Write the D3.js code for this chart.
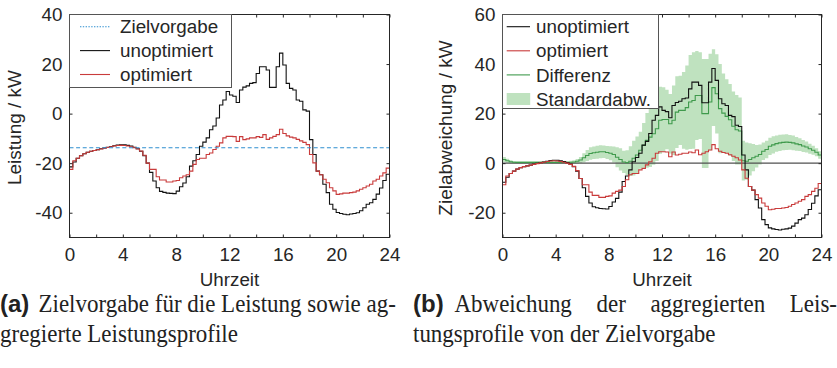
<!DOCTYPE html>
<html>
<head>
<meta charset="utf-8">
<script src="https://cdn.jsdelivr.net/npm/d3@7"></script>
<style>
  body { margin: 0; background: #fff; }
  svg { display: block; }
  .lbl { font-family: "Liberation Sans", Arial, Helvetica, sans-serif; fill: #262626; }
</style>
</head>
<body>
<svg id="chart" width="837" height="368"></svg>
<script>
// ---- Data: 15-minute aggregated power profiles over one day (kW) ----
const zielvorgabe = -13.8;

const unoptimiert = [
  -21.5, -19.5, -18.0, -17.0, -16.2, -15.6, -15.2, -14.9,
  -14.6, -14.2, -13.9, -13.6, -13.3, -13.0, -12.7, -12.6,
  -12.6, -12.8, -13.1, -13.6, -14.2, -15.2, -17.0, -20.0,
  -23.7, -27.2, -29.9, -31.4, -31.8, -32.1, -32.2, -32.3,
  -31.3, -29.5, -28.0, -25.5, -21.2, -19.0, -16.5, -13.2,
  -11.5, -9.8, -6.5, -5.0, -1.8, 3.5, 5.5, 8.9,
  7.5, 7.0, 4.5, 9.5, 10.7, 11.2, 12.2, 12.5,
  16.2, 18.9, 18.9, 17.6, 10.6, 10.6, 18.9, 24.4,
  19.6, 12.2, 10.2, 9.5, 5.5, 5.0, 1.5, 1.0,
  -10.5, -16.5, -23.2, -24.7, -28.5, -31.9, -36.6, -38.6,
  -39.9, -40.3, -40.6, -40.8, -40.5, -40.3, -40.0, -39.2,
  -38.0, -36.6, -36.0, -34.6, -32.5, -30.0, -27.0, -24.5
];

const optimiert = [
  -22.5, -19.0, -18.0, -17.0, -16.2, -15.6, -15.2, -14.9,
  -14.6, -14.3, -14.0, -13.7, -13.4, -13.1, -12.9, -12.8,
  -12.9, -13.1, -13.4, -13.8, -14.3, -15.1, -16.8, -20.0,
  -22.5, -22.5, -25.5, -26.8, -26.8, -27.6, -27.6, -27.2,
  -27.0, -25.9, -25.2, -24.7, -23.2, -20.5, -18.5, -18.0,
  -18.0, -16.5, -15.9, -14.5, -13.2, -11.8, -9.8, -9.2,
  -9.2, -9.3, -11.2, -9.3, -10.5, -10.2, -9.8, -9.8,
  -9.3, -9.6, -8.5, -10.4, -9.8, -9.2, -8.5, -6.3,
  -8.0, -9.0, -9.5, -9.8, -10.4, -11.0, -11.6, -12.5,
  -16.5, -19.9, -23.2, -24.7, -26.5, -27.9, -29.9, -31.2,
  -32.6, -32.4, -32.1, -32.1, -31.9, -31.7, -31.2, -30.5,
  -29.9, -29.2, -28.5, -27.2, -26.5, -25.2, -23.9, -22.0
];

const differenz = [
  1.5, 1.0, 0.6, 0.4, 0.3, 0.3, 0.3, 0.3,
  0.3, 0.3, 0.3, 0.3, 0.3, 0.3, 0.3, 0.3,
  0.3, 0.3, 0.3, 0.3, 0.4, 0.5, 0.8, 1.3,
  2.2, 3.1, 3.9, 4.2, 4.4, 4.6, 4.6, 4.3,
  4.0, 3.5, 2.4, 1.5, 0.5, 0.2, 0.8, 2.0,
  3.3, 5.2, 7.2, 9.2, 10.5, 11.9, 13.9, 17.3,
  17.6, 17.6, 15.9, 17.3, 20.6, 21.3, 21.3, 22.4,
  24.7, 25.3, 27.3, 27.3, 20.0, 20.0, 24.7, 30.5,
  28.0, 22.0, 20.2, 18.9, 17.5, 14.9, 13.5, 13.0,
  1.0, 0.8, 1.5, 2.2, 2.8, 3.5, 4.8, 5.5,
  6.8, 7.4, 7.9, 8.2, 8.4, 8.5, 8.4, 8.2,
  7.8, 7.5, 6.9, 6.5, 5.8, 5.2, 4.4, 3.3
];

const standardabw = [
  1.0, 0.8, 0.6, 0.5, 0.5, 0.5, 0.5, 0.5,
  0.5, 0.5, 0.5, 0.5, 0.5, 0.5, 0.5, 0.5,
  0.5, 0.5, 0.5, 0.5, 0.6, 0.7, 0.9, 1.2,
  1.8, 2.2, 2.5, 2.5, 2.6, 2.6, 2.5, 2.6,
  2.8, 3.2, 4.0, 4.5, 4.5, 5.0, 6.0, 7.0,
  7.5, 7.5, 9.0, 11.0, 12.0, 12.5, 13.0, 13.5,
  13.0, 12.0, 12.0, 14.0, 14.5, 14.0, 15.5, 17.0,
  19.0, 19.5, 18.0, 17.5, 22.0, 22.0, 19.5, 15.5,
  16.0, 18.0, 16.0, 15.0, 14.5, 14.0, 14.0, 13.5,
  8.0, 7.5, 6.5, 5.5, 4.5, 4.0, 3.5, 3.5,
  3.5, 3.5, 3.3, 3.3, 3.2, 3.2, 3.0, 3.0,
  2.8, 2.6, 2.4, 2.2, 2.0, 1.8, 1.6, 1.5
];

const xTicks = [0, 2, 4, 6, 8, 10, 12, 14, 16, 18, 20, 22, 24];
const xTickLabels = [0, 4, 8, 12, 16, 20, 24];
const yTicksLeft = [-40, -20, 0, 20, 40];
const yTicksRight = [-20, 0, 20, 40, 60];

// deviation from the target for panel (b)
const abwUnopt = unoptimiert.map(v => v - zielvorgabe);
const abwOpt = optimiert.map(v => v - zielvorgabe);

// ---- Styling ----
const C = {
  axis: "#262626",
  black: "#111111",
  red: "#c93b3b",
  green: "#3f9a4c",
  band: "#bfe2bf",
  blue: "#2f8fd0",
  zero: "#505050"
};
const FS = 18.8;
const STEP = 0.25;

const svg = d3.select("#chart");

// step series: each value holds for 15 minutes, closed at 24 h
const steps = vals => vals.map((v, i) => [i * STEP, v]).concat([[24, vals[vals.length - 1]]]);

// plain hyphen-minus for negative tick labels
const num = d => String(d);

function panel(opts) {
  const { left, right, yDomain, yTicks, id } = opts;
  const top = 14.5, bottom = 237.5;
  const x = d3.scaleLinear().domain([0, 24]).range([left, right]);
  const y = d3.scaleLinear().domain(yDomain).range([bottom, top]);
  const g = svg.append("g");

  g.append("clipPath").attr("id", id)
    .append("rect").attr("x", left).attr("y", top)
    .attr("width", right - left).attr("height", bottom - top);

  const plot = g.append("g").attr("clip-path", `url(#${id})`);

  // axes with inward ticks on all four sides
  const fmtX = d => (xTickLabels.includes(d) ? num(d) : "");
  const ax = g.append("g").attr("class", "axes");
  ax.append("g").attr("transform", `translate(0,${bottom})`)
    .call(d3.axisBottom(x).tickValues(xTicks).tickFormat(fmtX).tickSize(-3).tickPadding(10));
  ax.append("g").attr("transform", `translate(0,${top})`)
    .call(d3.axisTop(x).tickValues(xTicks).tickFormat("").tickSize(-3));
  ax.append("g").attr("transform", `translate(${left},0)`)
    .call(d3.axisLeft(y).tickValues(yTicks).tickFormat(num).tickSize(-3).tickPadding(7));
  ax.append("g").attr("transform", `translate(${right},0)`)
    .call(d3.axisRight(y).tickValues(yTicks).tickFormat("").tickSize(-3));
  ax.selectAll(".domain").remove();
  ax.selectAll(".tick line").attr("stroke", C.axis).attr("stroke-width", 1);
  ax.selectAll(".tick text").attr("class", "lbl").attr("font-size", FS)
    .attr("fill", C.axis).style("font-family", '"Liberation Sans", Arial, sans-serif');

  g.append("rect").attr("x", left).attr("y", top)
    .attr("width", right - left).attr("height", bottom - top)
    .attr("fill", "none").attr("stroke", C.axis).attr("stroke-width", 1);

  g.append("text").attr("class", "lbl").attr("font-size", FS)
    .attr("x", (left + right) / 2).attr("y", 285.5).attr("text-anchor", "middle")
    .text("Uhrzeit");

  return { g, plot, x, y, top, bottom };
}

const line = (x, y) => d3.line().x(d => x(d[0])).y(d => y(d[1])).curve(d3.curveStepAfter);

// ---------------- Panel (a) ----------------
const A = panel({ left: 69.5, right: 389.5, yDomain: [-50, 40], yTicks: yTicksLeft, id: "clipA" });
const lA = line(A.x, A.y);

A.plot.append("path").datum(steps(unoptimiert)).attr("d", lA)
  .attr("fill", "none").attr("stroke", C.black).attr("stroke-width", 1.1);
A.plot.append("path").datum(steps(optimiert)).attr("d", lA)
  .attr("fill", "none").attr("stroke", C.red).attr("stroke-width", 1.1);
A.plot.append("path").datum([[0, zielvorgabe], [24, zielvorgabe]]).attr("d", lA)
  .attr("fill", "none").attr("stroke", C.blue).attr("stroke-width", 1.1)
  .attr("stroke-dasharray", "4,2.6");

A.g.append("text").attr("class", "lbl").attr("font-size", 19)
  .attr("text-anchor", "middle")
  .attr("transform", `translate(21,127.5) rotate(-90)`)
  .text("Leistung / kW");

// legend (a)
{
  const lg = A.g.append("g");
  lg.append("rect").attr("x", 69.5).attr("y", 14.5).attr("width", 162).attr("height", 73)
    .attr("fill", "#fff").attr("stroke", "#555").attr("stroke-width", 1);
  const items = [
    { t: "Zielvorgabe", c: C.blue, dash: "1.4,1.4" },
    { t: "unoptimiert", c: C.black, dash: null },
    { t: "optimiert", c: C.red, dash: null }
  ];
  items.forEach((it, i) => {
    const yy = 26.7 + i * 23.9;
    lg.append("line").attr("x1", 80).attr("x2", 110).attr("y1", yy).attr("y2", yy)
      .attr("stroke", it.c).attr("stroke-width", 1.1)
      .attr("stroke-dasharray", it.dash);
    lg.append("text").attr("class", "lbl").attr("font-size", FS)
      .attr("x", 120).attr("y", yy + 6.6).text(it.t);
  });
}

// ---------------- Panel (b) ----------------
const B = panel({ left: 502.5, right: 821.5, yDomain: [-30, 60], yTicks: yTicksRight, id: "clipB" });
const lB = line(B.x, B.y);

const bandData = differenz.map((v, i) => [i * STEP, v - standardabw[i], v + standardabw[i]])
  .concat([[24, differenz[95] - standardabw[95], differenz[95] + standardabw[95]]]);
B.plot.append("path").datum(bandData)
  .attr("d", d3.area().x(d => B.x(d[0])).y0(d => B.y(d[1])).y1(d => B.y(d[2])).curve(d3.curveStepAfter))
  .attr("fill", C.band).attr("stroke", "none");

B.plot.append("line").attr("x1", B.x(0)).attr("x2", B.x(24))
  .attr("y1", B.y(0)).attr("y2", B.y(0))
  .attr("stroke", C.zero).attr("stroke-width", 1.4);

B.plot.append("path").datum(steps(differenz)).attr("d", lB)
  .attr("fill", "none").attr("stroke", C.green).attr("stroke-width", 1.1);
B.plot.append("path").datum(steps(abwUnopt)).attr("d", lB)
  .attr("fill", "none").attr("stroke", C.black).attr("stroke-width", 1.1);
B.plot.append("path").datum(steps(abwOpt)).attr("d", lB)
  .attr("fill", "none").attr("stroke", C.red).attr("stroke-width", 1.1);

B.g.append("text").attr("class", "lbl").attr("font-size", 19)
  .attr("text-anchor", "middle")
  .attr("transform", `translate(452,128) rotate(-90)`)
  .text("Zielabweichung / kW");

// legend (b)
{
  const lg = B.g.append("g");
  lg.append("rect").attr("x", 502.5).attr("y", 14.5).attr("width", 156).attr("height", 94)
    .attr("fill", "#fff").attr("stroke", "#555").attr("stroke-width", 1);
  const items = [
    { t: "unoptimiert", c: C.black, patch: false },
    { t: "optimiert", c: C.red, patch: false },
    { t: "Differenz", c: C.green, patch: false },
    { t: "Standardabw.", c: C.band, patch: true }
  ];
  items.forEach((it, i) => {
    const yy = 26.7 + i * 24.1;
    if (it.patch) {
      lg.append("rect").attr("x", 506.7).attr("y", yy - 6).attr("width", 23.5).attr("height", 12)
        .attr("fill", it.c);
    } else {
      lg.append("line").attr("x1", 506.7).attr("x2", 530).attr("y1", yy).attr("y2", yy)
        .attr("stroke", it.c).attr("stroke-width", 1.1);
    }
    lg.append("text").attr("class", "lbl").attr("font-size", FS)
      .attr("x", 536).attr("y", yy + 6.6).text(it.t);
  });
}

// ---------------- Sub-captions ----------------
const SERIF = '"Liberation Serif", "Times New Roman", serif';
const cap = svg.append("g");
const L1 = 312, L2 = 342;

function tag(x, y, s) {
  cap.append("text").attr("x", x).attr("y", y)
    .attr("font-family", '"Liberation Sans", Arial, sans-serif').attr("font-weight", "bold")
    .attr("font-size", 24).attr("fill", "#222").text(s);
}
function body(x, y, s) {
  return cap.append("text").attr("transform", `translate(${x},${y})`)
    .attr("font-family", SERIF).attr("font-size", 25).attr("fill", "#222").text(s);
}

tag(0, L1, "(a)");
tag(413, L1, "(b)");

const a1 = body(38.5, L1, "Zielvorgabe für die Leistung sowie ag-");
const a2 = body(0, L2, "gregierte Leistungsprofile");
const b1 = body(454.5, L1, "Abweichung der aggregierten Leis-");
const b2 = body(413, L2, "tungsprofile von der Zielvorgabe");

// condensed setting: horizontal squeeze shared by all caption lines
const sx = 357.5 / a1.node().getComputedTextLength();
[[a1, 38.5, L1], [a2, 0, L2], [b1, 454.5, L1], [b2, 413, L2]].forEach(([t, x, y]) => {
  t.attr("transform", `translate(${x},${y}) scale(${sx},1)`);
});
// justified first line of (b)
{
  const w = b1.node().getComputedTextLength();
  const gaps = b1.text().split(" ").length - 1;
  const ws = ((837 - 454.5) / sx - w) / gaps;
  b1.style("word-spacing", `${ws}px`);
}
</script>
</body>
</html>
